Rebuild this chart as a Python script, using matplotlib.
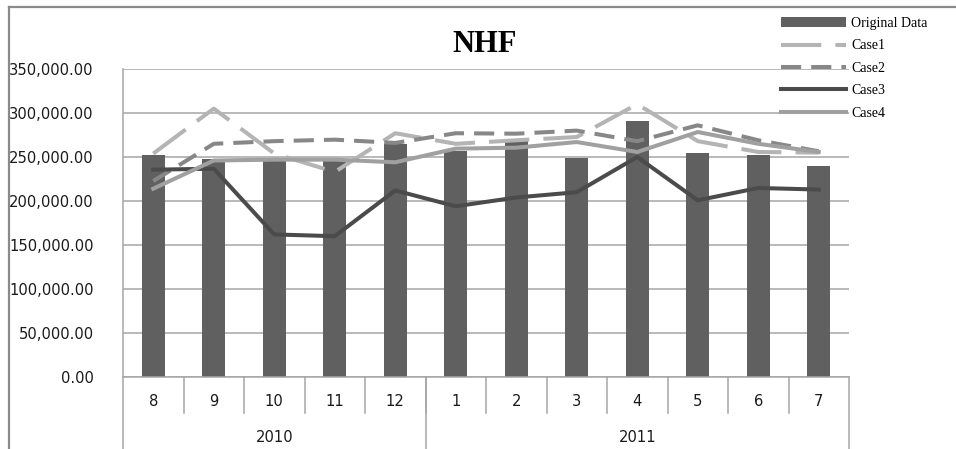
import numpy as np
import matplotlib.pyplot as plt
from matplotlib.lines import Line2D
from matplotlib.ticker import FuncFormatter

# monthly NHF values, Aug 2010 - Jul 2011
months = ["8", "9", "10", "11", "12", "1", "2", "3", "4", "5", "6", "7"]
years = ["2010", "2011"]
months_per_year = [5, 7]

original = [252700, 248000, 247000, 246000, 265000, 257000, 268000, 249000, 290600, 254600, 252700, 239500]
case1 = [253900, 305000, 254000, 233000, 277000, 265000, 269000, 272700, 310000, 268000, 255700, 255000]
case2 = [222700, 265000, 268000, 269700, 266000, 277000, 276500, 280000, 268000, 286000, 269000, 256500]
case3 = [235600, 236700, 162000, 160000, 212000, 194000, 204000, 210000, 250000, 200800, 214800, 213000]
case4 = [214000, 246000, 247000, 247000, 244000, 259500, 260600, 267000, 255700, 278400, 265000, 255700]

W, H = 956, 449
fig = plt.figure(figsize=(W / 100, H / 100), dpi=100, facecolor="white")
ax = fig.add_axes([123 / W, 72 / H, 726 / W, 308 / H])

x = np.arange(len(months))
grid_c = "#a6a6a6"
tick_fs = 10.6

bars = ax.bar(x, original, width=0.375, color="#606060", label="Original Data", zorder=2)
l1, = ax.plot(x, case1, color="#b4b4b4", lw=2.9, dashes=(10, 3.5), label="Case1", zorder=3)
l2, = ax.plot(x, case2, color="#878787", lw=2.9, dashes=(5, 2.5), label="Case2", zorder=3)
l3, = ax.plot(x, case3, color="#4b4b4b", lw=2.9, label="Case3", zorder=3)
l4, = ax.plot(x, case4, color="#a0a0a0", lw=2.9, label="Case4", zorder=3)

ax.set_xlim(-0.5, len(months) - 0.5)
ax.set_ylim(0, 350000)
ax.set_yticks(np.arange(0, 350001, 50000))
ax.yaxis.set_major_formatter(FuncFormatter(lambda v, p: f"{v:,.2f}"))
ax.tick_params(axis="y", length=0, pad=21, labelsize=tick_fs, labelcolor="#1a1a1a")
ax.set_xticks([])
ax.grid(axis="y", color=grid_c, lw=1.1, zorder=0)
ax.set_axisbelow(True)
for s in ["top", "right"]:
    ax.spines[s].set_visible(False)
for s in ["left", "bottom"]:
    ax.spines[s].set_color(grid_c)
    ax.spines[s].set_linewidth(1.1)

# two-level category table under the axis
trans = ax.get_xaxis_transform()
month_bot = -36 / 308
year_bot = -72 / 308
for i in range(1, len(months)):
    ax.plot([i - 0.5, i - 0.5], [0, month_bot], transform=trans, color=grid_c, lw=1.1, clip_on=False)
for i, m in enumerate(months):
    ax.text(i, -25 / 308, m, transform=trans, ha="center", va="center", fontsize=tick_fs, color="#1a1a1a")
edges = [0]
for n in months_per_year:
    edges.append(edges[-1] + n)
for e in edges:
    ax.plot([e - 0.5, e - 0.5], [0, year_bot], transform=trans, color=grid_c, lw=1.1, clip_on=False)
for k, yr in enumerate(years):
    mid = (edges[k] + edges[k + 1] - 1) / 2
    ax.text(mid, -60 / 308, yr, transform=trans, ha="center", va="center", fontsize=tick_fs, color="#1a1a1a")

# chart frame
fig.add_artist(Line2D([9 / W, 1], [1 - 7 / H, 1 - 7 / H], color="#8a8a8a", lw=1.6))
fig.add_artist(Line2D([9 / W, 9 / W], [0, 1 - 7 / H], color="#8a8a8a", lw=1.6))

fig.text(485 / W, 1 - 44 / H, "NHF", ha="center", va="center", fontsize=22,
         fontweight="bold", family="Liberation Serif")

fig.legend([bars, l1, l2, l3, l4], ["Original Data", "Case1", "Case2", "Case3", "Case4"],
           loc="upper left", bbox_to_anchor=(781 / W, 1 - 17 / H), frameon=False,
           prop={"family": "Liberation Serif", "size": 10}, handlelength=4.7,
           handletextpad=0.35, labelspacing=0.68, borderaxespad=0, borderpad=0)

fig.savefig("out.png", dpi=100)
